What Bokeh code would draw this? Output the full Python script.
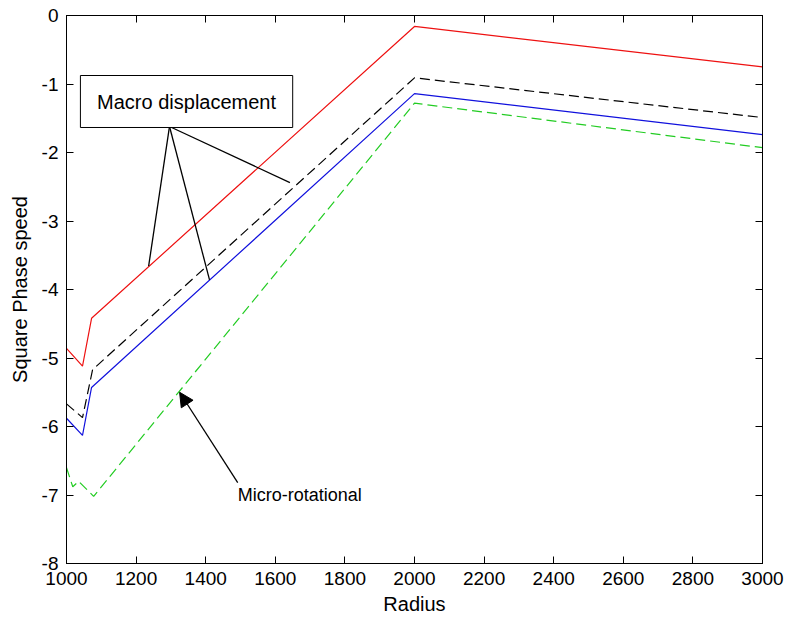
from bokeh.plotting import figure
from bokeh.models import (Range1d, LinearAxis, FixedTicker, BoxAnnotation, Label,
                          Arrow, NormalHead, CustomLabelingPolicy)
from bokeh.embed import file_html
from bokeh.resources import INLINE

# ---- data ----
radius_red = [1000, 1046, 1072, 2000, 3000]
speed_red = [-4.86, -5.12, -4.42, -0.16, -0.75]

radius_black = [1000, 1046, 1075, 2000, 3000]
speed_black = [-5.67, -5.87, -5.17, -0.91, -1.49]

radius_blue = [1000, 1046, 1072, 2000, 3000]
speed_blue = [-5.88, -6.13, -5.43, -1.14, -1.74]

radius_green = [1000, 1018, 1035, 1078, 2000, 3000]
speed_green = [-6.60, -6.88, -6.80, -7.02, -1.28, -1.93]

x_ticks = [1000, 1200, 1400, 1600, 1800, 2000, 2200, 2400, 2600, 2800, 3000]
y_ticks = [-8, -7, -6, -5, -4, -3, -2, -1, 0]
y_tick_labels = ["-8", "-7", "-6", "-5", "-4", "-3", "-2", "-1", "0"]

# annotation positions (data units)
macro_box = dict(left=1040, right=1650, top=-0.876, bottom=-1.635)
macro_text = "Macro displacement"
macro_apex = (1296, -1.62)
macro_ends_x = [1236, 1411, 1642]
macro_ends_y = [-3.66, -3.86, -2.44]
micro_text = "Micro-rotational"
micro_tail = (1492, -6.82)
micro_tip = (1325, -5.50)
micro_text_pos = (1492, -7.0)

FONT = "Liberation Sans"

p = figure(width=788, height=626, output_backend="svg", toolbar_location=None,
           x_range=Range1d(1000, 3000), y_range=Range1d(-8, 0),
           x_axis_label="Radius", y_axis_label="Square Phase speed")
p.min_border_left = 66
p.min_border_right = 26
p.min_border_top = 15
p.min_border_bottom = 63
p.background_fill_color = "white"
p.border_fill_color = "white"
p.outline_line_color = "black"
p.outline_line_width = 1
p.xgrid.visible = False
p.ygrid.visible = False

for ax, ticks in ((p.xaxis[0], x_ticks), (p.yaxis[0], y_ticks)):
    ax.ticker = FixedTicker(ticks=ticks)
    ax.minor_tick_line_color = None
    ax.major_tick_in = 7
    ax.major_tick_out = 0
    ax.axis_line_color = "black"
    ax.major_tick_line_color = "black"
    ax.major_label_text_font = FONT
    ax.major_label_text_font_size = "19px"
    ax.major_label_text_color = "black"
    ax.major_label_standoff = 8
    ax.axis_label_text_font = FONT
    ax.axis_label_text_font_size = "20px"
    ax.axis_label_text_font_style = "normal"
    ax.axis_label_text_color = "black"
p.xaxis[0].axis_label_standoff = 5
p.yaxis[0].axis_label_standoff = 8
p.yaxis[0].major_label_overrides = {t: s for t, s in zip(y_ticks, y_tick_labels)}

hide_labels = CustomLabelingPolicy(code="""
    for (const i of Array.from(indices)) { indices.unset(i) }
    return indices
""")

top_ax = LinearAxis(ticker=FixedTicker(ticks=x_ticks), major_label_policy=hide_labels,
                    major_label_standoff=0, major_tick_in=7, major_tick_out=0,
                    minor_tick_line_color=None, axis_line_color="black")
right_ax = LinearAxis(ticker=FixedTicker(ticks=y_ticks),
                      major_label_policy=CustomLabelingPolicy(code="""
    for (const i of Array.from(indices)) { indices.unset(i) }
    return indices
"""),
                      major_label_standoff=0, major_tick_in=7, major_tick_out=0,
                      minor_tick_line_color=None, axis_line_color="black")
p.add_layout(top_ax, "above")
p.add_layout(right_ax, "right")

p.line(radius_red, speed_red, line_color="#ee1111", line_width=1.2)
p.line(radius_black, speed_black, line_color="black", line_width=1.2, line_dash="10 5")
p.line(radius_blue, speed_blue, line_color="#1111dd", line_width=1.2)
p.line(radius_green, speed_green, line_color="#22cc22", line_width=1.2, line_dash="10 5")

# macro displacement annotation
p.segment(x0=[macro_apex[0]] * 3, y0=[macro_apex[1]] * 3, x1=macro_ends_x, y1=macro_ends_y,
          line_color="black", line_width=1.3)
p.add_layout(BoxAnnotation(fill_color="white", fill_alpha=1.0, line_color="black",
                           line_width=1, line_alpha=1.0, **macro_box))
p.add_layout(Label(x=(macro_box["left"] + macro_box["right"]) / 2,
                   y=(macro_box["top"] + macro_box["bottom"]) / 2,
                   text=macro_text, text_align="center", text_baseline="middle",
                   text_font=FONT, text_font_size="20px", text_color="black"))

# micro-rotational annotation
p.add_layout(Arrow(end=NormalHead(size=14, fill_color="black", line_color="black"),
                   x_start=micro_tail[0], y_start=micro_tail[1],
                   x_end=micro_tip[0], y_end=micro_tip[1],
                   line_color="black", line_width=1.3))
p.add_layout(Label(x=micro_text_pos[0], y=micro_text_pos[1], text=micro_text,
                   text_align="left", text_baseline="middle",
                   text_font=FONT, text_font_size="18px", text_color="black"))

open("out.html", "w").write(file_html(p, INLINE))
